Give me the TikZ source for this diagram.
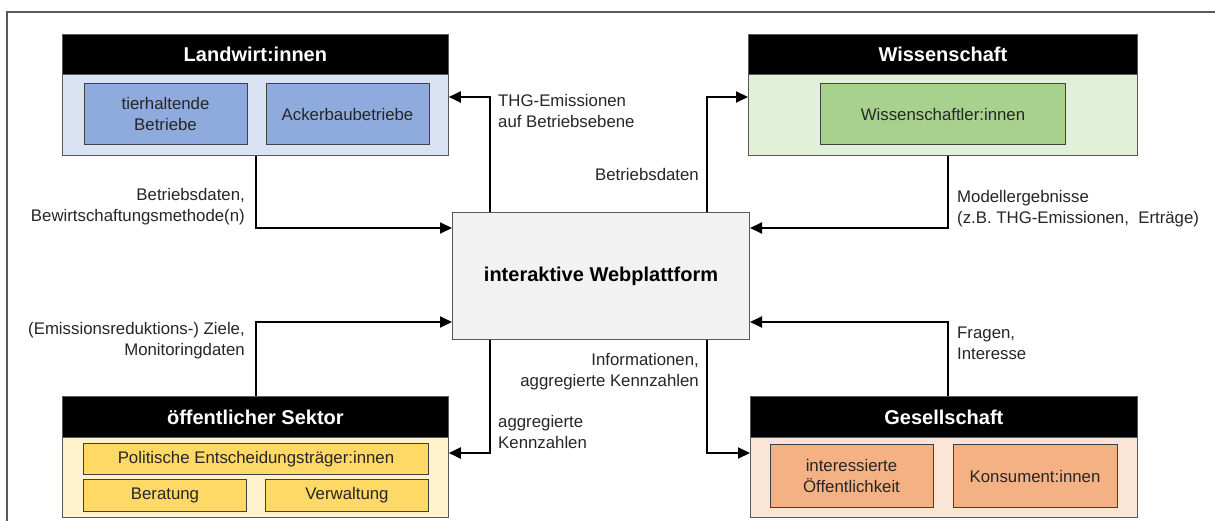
\documentclass[tikz,border=0pt]{standalone}
\usepackage{fontspec}
\setmainfont{Liberation Sans}
\usetikzlibrary{arrows.meta}
\definecolor{lwbg}{HTML}{DAE3F3}
\definecolor{lwin}{HTML}{8FAADC}
\definecolor{wsbg}{HTML}{E2F0D9}
\definecolor{wsin}{HTML}{A9D18E}
\definecolor{osbg}{HTML}{FFF2CC}
\definecolor{osin}{HTML}{FFD966}
\definecolor{gsbg}{HTML}{FBE5D6}
\definecolor{gsin}{HTML}{F4B183}
\definecolor{ctbg}{HTML}{F2F2F2}
\definecolor{edge}{HTML}{595959}
\definecolor{inedge}{HTML}{404040}
\tikzset{
  grphead/.style={draw=edge, line width=0.8pt, fill=black, text=white, anchor=north west, inner sep=0pt,
    font=\bfseries\fontsize{20}{24}\selectfont},
  grpbody/.style={draw=edge, line width=0.8pt, anchor=north west, inner sep=0pt},
  subbox/.style={draw=inedge, line width=1pt, anchor=north west, inner sep=0pt, align=center,
    text=black!85, font=\fontsize{16.8}{21}\selectfont},
  lbl/.style={inner sep=0pt, text=black!85, font=\fontsize{16.8}{21}\selectfont},
  arr/.style={line width=2pt, -{Triangle[length=12pt,width=11pt]}},
  frameline/.style={draw=edge, line width=1.2pt}
}
\begin{document}
\begin{tikzpicture}[x=1pt,y=-1pt]
\useasboundingbox (0,0) rectangle (1215,521);
\fill[white] (0,0) rectangle (1215,521);
\draw[frameline] (7,521) -- (7,12) -- (1215,12);

% Landwirt:innen
\node[grpbody, fill=lwbg, minimum width=386pt, minimum height=81pt] (lw-body) at (62,74) {};
\node[grphead, minimum width=386pt, minimum height=40pt] (lw-head) at (62,34) {Landwirt:innen};
\node[subbox, fill=lwin, minimum width=163pt, minimum height=61pt] (lw-tier) at (83.5,83) {tierhaltende\\Betriebe};
\node[subbox, fill=lwin, minimum width=163pt, minimum height=61pt] (lw-acker) at (265.5,83) {Ackerbaubetriebe};

% Wissenschaft
\node[grpbody, fill=wsbg, minimum width=389pt, minimum height=81pt] (ws-body) at (748,74) {};
\node[grphead, minimum width=389pt, minimum height=40pt] (ws-head) at (748,34) {Wissenschaft};
\node[subbox, fill=wsin, minimum width=245pt, minimum height=61pt] (ws-in) at (820,83) {Wissenschaftler:innen};

% Center
\node[draw=edge, line width=1pt, fill=ctbg, anchor=north west, inner sep=0pt,
  minimum width=297pt, minimum height=127pt, font=\bfseries\fontsize{20}{24}\selectfont] (center) at (452,212) {interaktive Webplattform};

% öffentlicher Sektor
\node[grpbody, fill=osbg, minimum width=386pt, minimum height=80pt] (os-body) at (62,437) {};
\node[grphead, minimum width=386pt, minimum height=41pt] (os-head) at (62,396) {öffentlicher Sektor};
\node[subbox, fill=osin, minimum width=345pt, minimum height=31.5pt] (os-pol) at (83,442.5) {Politische Entscheidungsträger:innen};
\node[subbox, fill=osin, minimum width=163pt, minimum height=32pt] (os-ber) at (83,479) {Beratung};
\node[subbox, fill=osin, minimum width=163pt, minimum height=32pt] (os-ver) at (265,479) {Verwaltung};

% Gesellschaft
\node[grpbody, fill=gsbg, minimum width=387pt, minimum height=80pt] (gs-body) at (750,437) {};
\node[grphead, minimum width=387pt, minimum height=41pt] (gs-head) at (750,396) {Gesellschaft};
\node[subbox, fill=gsin, minimum width=163pt, minimum height=63pt] (gs-oef) at (769.5,444) {interessierte\\Öffentlichkeit};
\node[subbox, fill=gsin, minimum width=164pt, minimum height=63pt] (gs-kon) at (952.5,444) {Konsument:innen};

% helper coordinates
\coordinate (xL) at (256,0);
\coordinate (xCL) at (490,0);
\coordinate (xCR) at (707,0);
\coordinate (xR) at (948,0);
\coordinate (yT) at (0,97);
\coordinate (yU) at (0,228);
\coordinate (yD) at (0,322);
\coordinate (yB) at (0,453);

% connectors
\draw[arr] (lw-body.south -| xL) |- (center.west |- yU);
\draw[arr] (center.north -| xCL) |- (lw-body.east |- yT);
\draw[arr] (center.north -| xCR) |- (ws-body.west |- yT);
\draw[arr] (ws-body.south -| xR) |- (center.east |- yU);
\draw[arr] (os-head.north -| xL) |- (center.west |- yD);
\draw[arr] (center.south -| xCL) |- (os-body.east |- yB);
\draw[arr] (center.south -| xCR) |- (gs-body.west |- yB);
\draw[arr] (gs-head.north -| xR) |- (center.east |- yD);

% labels
\node[lbl, anchor=east, align=right] (l1) at (245,207) {Betriebsdaten,\\Bewirtschaftungsmethode(n)};
\node[lbl, anchor=west, align=left] (l2) at (498,110.5) {THG-Emissionen\\auf Betriebsebene};
\node[lbl, anchor=east, align=right] (l3) at (699,174) {Betriebsdaten};
\node[lbl, anchor=west, align=left] (l4) at (957,208.5) {Modellergebnisse\\(z.B. THG-Emissionen,\ \ Erträge)};
\node[lbl, anchor=east, align=right] (l5) at (245,341) {(Emissionsreduktions-) Ziele,\\Monitoringdaten};
\node[lbl, anchor=west, align=left] (l6) at (498,432) {aggregierte\\Kennzahlen};
\node[lbl, anchor=east, align=right] (l7) at (699,372) {Informationen,\\aggregierte Kennzahlen};
\node[lbl, anchor=west, align=left] (l8) at (957,343) {Fragen,\\Interesse};
\end{tikzpicture}
\end{document}
